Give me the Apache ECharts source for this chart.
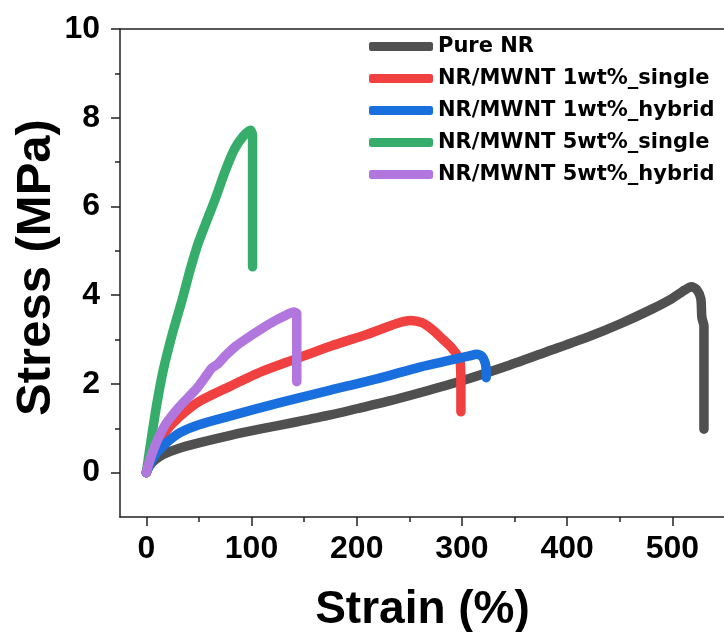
<!DOCTYPE html>
<html>
<head>
<meta charset="utf-8">
<script src="https://cdn.jsdelivr.net/npm/echarts@6/dist/echarts.min.js"></script>
<style>
html,body{margin:0;padding:0;background:#fff;}
#chart{width:724px;height:632px;}
</style>
</head>
<body>
<div id="chart"></div>
<script>
// ---- data ----
var seriesNames = ["Pure NR", "NR/MWNT 1wt%_single", "NR/MWNT 1wt%_hybrid", "NR/MWNT 5wt%_single", "NR/MWNT 5wt%_hybrid"];

var strainPure = [0, 3, 8, 16, 30, 50, 80, 110, 140, 175, 200, 230, 260, 300, 340, 380, 420, 450, 480, 500, 512, 518, 523, 527, 528, 530, 530];
var stressPure = [0, 0.15, 0.28, 0.41, 0.54, 0.67, 0.84, 0.99, 1.13, 1.3, 1.44, 1.61, 1.8, 2.07, 2.38, 2.72, 3.06, 3.35, 3.68, 3.93, 4.12, 4.19, 4.13, 3.92, 3.5, 3.3, 0.98];

var strain1Single = [0, 4, 10, 18, 32, 50, 80, 110, 143, 175, 210, 238, 251, 262, 272, 282, 290, 298, 299, 299];
var stress1Single = [0, 0.3, 0.62, 0.92, 1.27, 1.6, 1.95, 2.28, 2.57, 2.85, 3.12, 3.36, 3.43, 3.38, 3.22, 3.0, 2.82, 2.54, 2.0, 1.37];

var strain1Hybrid = [0, 4, 10, 18, 32, 50, 80, 127, 175, 220, 260, 290, 307, 314, 319, 322, 323, 323];
var stress1Hybrid = [0, 0.22, 0.45, 0.65, 0.9, 1.08, 1.28, 1.58, 1.86, 2.12, 2.38, 2.54, 2.63, 2.67, 2.62, 2.48, 2.3, 2.14];

var strain5Single = [0, 5, 10, 16, 25, 34, 42, 49, 57, 66, 75, 84, 92, 99, 101, 101];
var stress5Single = [0, 0.8, 1.55, 2.3, 3.15, 3.89, 4.6, 5.15, 5.65, 6.2, 6.8, 7.3, 7.58, 7.72, 7.6, 4.64];

var strain5Hybrid = [0, 4, 10, 18, 32, 48, 58, 62, 68, 75, 85, 97, 110, 122, 133, 140, 143, 143];
var stress5Hybrid = [0, 0.33, 0.7, 1.08, 1.5, 1.9, 2.22, 2.35, 2.45, 2.63, 2.85, 3.05, 3.25, 3.42, 3.55, 3.62, 3.58, 2.05];

var seriesColors = ["#505050", "#f04040", "#1a6fdf", "#37ad6b", "#b177de"];

var xMajorTicks = [0, 100, 200, 300, 400, 500];
var xMinorTicks = [50, 150, 250, 350, 450];
var yMajorTicks = [0, 2, 4, 6, 8, 10];
var yMinorTicks = [1, 3, 5, 7, 9];
var xRange = [-25, 550];
var yRange = [-1, 10];

// ---- build ----
function pairs(xs, ys) {
  var out = [];
  for (var i = 0; i < xs.length; i++) out.push([xs[i], ys[i]]);
  return out;
}
var allData = [
  pairs(strainPure, stressPure),
  pairs(strain1Single, stress1Single),
  pairs(strain1Hybrid, stress1Hybrid),
  pairs(strain5Single, stress5Single),
  pairs(strain5Hybrid, stress5Hybrid)
];

var axisColor = "#222";
var labelFont = { color: "#000", fontSize: 32, fontWeight: "bold", fontFamily: "Liberation Sans, Arial, sans-serif" };

var series = allData.map(function (d, i) {
  return {
    name: seriesNames[i],
    type: "line",
    data: d,
    xAxisIndex: 0,
    yAxisIndex: 0,
    showSymbol: false,
    symbol: "none",
    smooth: 0.25,
    color: seriesColors[i],
    lineStyle: { width: 9.5, color: seriesColors[i], cap: "round", join: "round" },
    animation: false
  };
});

var chart = echarts.init(document.getElementById("chart"), null, { renderer: "canvas" });
chart.setOption({
  backgroundColor: "#fff",
  animation: false,
  grid: { left: 120, top: 29, width: 605, height: 488, containLabel: false, outerBoundsMode: "none" },
  legend: {
    orient: "vertical",
    left: 369,
    top: 36,
    padding: 0,
    itemWidth: 64,
    itemHeight: 9,
    itemGap: 11,
    icon: "roundRect",
    data: seriesNames,
    textStyle: { color: "#000", fontSize: 21, lineHeight: 21, fontWeight: "bold", fontFamily: "DejaVu Sans, sans-serif" }
  },
  xAxis: [
    {
      type: "value", position: "bottom", min: xRange[0], max: xRange[1],
      name: "Strain (%)", nameLocation: "middle", nameGap: 70,
      nameTextStyle: { color: "#000", fontSize: 46, fontWeight: "bold", fontFamily: "Liberation Sans, Arial, sans-serif" },
      axisLine: { show: true, onZero: false, lineStyle: { color: axisColor, width: 1.5 } },
      axisTick: { show: true, inside: false, length: 9, customValues: xMajorTicks, lineStyle: { color: axisColor, width: 1.5 } },
      axisLabel: Object.assign({ margin: 16, customValues: xMajorTicks }, labelFont),
      splitLine: { show: false }
    },
    {
      type: "value", position: "bottom", min: xRange[0], max: xRange[1],
      axisLine: { show: false, onZero: false },
      axisTick: { show: true, inside: false, length: 5, customValues: xMinorTicks, lineStyle: { color: axisColor, width: 1.5 } },
      axisLabel: { show: false },
      splitLine: { show: false }
    },
    {
      type: "value", position: "top", min: xRange[0], max: xRange[1],
      axisLine: { show: true, onZero: false, lineStyle: { color: axisColor, width: 1.5 } },
      axisTick: { show: false },
      axisLabel: { show: false },
      splitLine: { show: false }
    }
  ],
  yAxis: [
    {
      type: "value", position: "left", min: yRange[0], max: yRange[1],
      name: "Stress (MPa)", nameLocation: "middle", nameGap: 59, nameRotate: 90, nameMoveOverlap: false,
      nameTextStyle: { color: "#000", fontSize: 49, fontWeight: "bold", fontFamily: "Liberation Sans, Arial, sans-serif", padding: [0, 0, 0, 11] },
      axisLine: { show: true, onZero: false, lineStyle: { color: axisColor, width: 1.5 } },
      axisTick: { show: true, inside: false, length: 9, customValues: yMajorTicks, lineStyle: { color: axisColor, width: 1.5 } },
      axisLabel: Object.assign({ margin: 20, customValues: yMajorTicks }, labelFont),
      splitLine: { show: false }
    },
    {
      type: "value", position: "left", min: yRange[0], max: yRange[1],
      axisLine: { show: false, onZero: false },
      axisTick: { show: true, inside: false, length: 5, customValues: yMinorTicks, lineStyle: { color: axisColor, width: 1.5 } },
      axisLabel: { show: false },
      splitLine: { show: false }
    }
  ],
  series: series
});
</script>
</body>
</html>
